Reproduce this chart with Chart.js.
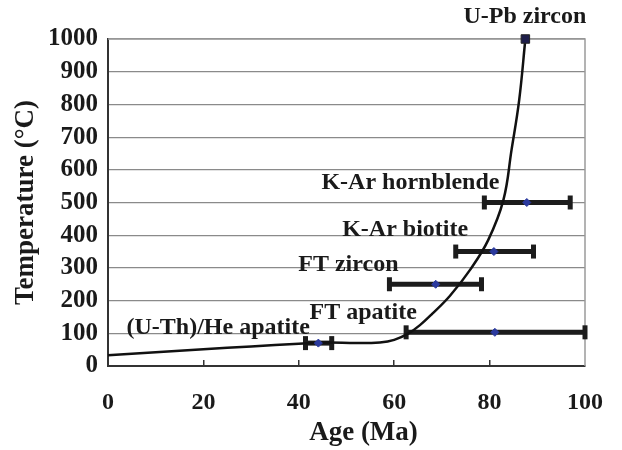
<!DOCTYPE html>
<html>
<head>
<meta charset="utf-8">
<script src="https://cdn.jsdelivr.net/npm/chart.js@4.4.1/dist/chart.umd.min.js"></script>
<style>
  html, body { margin: 0; padding: 0; background: #fff; }
  #wrap { width: 622px; height: 450px; }
</style>
</head>
<body>
<div id="wrap"><canvas id="chart"></canvas></div>
<script>
// cooling curve (age Ma, temperature °C)
const curveAge  = [0, 10, 20, 30, 40, 46, 52, 57, 60, 63, 65.4, 68, 71.7, 75.9, 79.7, 82.9, 84.6, 86.2, 87.5];
const curveTemp = [33, 42, 51, 60, 68, 72, 70, 72, 80, 100, 125, 160, 215, 294, 385, 508, 661, 813, 1000];

// thermochronometers with age ranges
const sampleName = ['K-Ar hornblende', 'K-Ar biotite', 'FT zircon', 'FT apatite', '(U-Th)/He apatite'];
const sampleAge  = [87.8, 80.9, 68.7, 81.1, 44.1];
const sampleTemp = [500, 350, 250, 103, 70];
const ageLow     = [78.9, 72.9, 59.0, 62.5, 41.4];
const ageHigh    = [96.9, 89.2, 78.3, 100, 46.9];

// U-Pb zircon point
const upbAge = 87.5;
const upbTemp = 1000;

// text labels, anchored at the centre of the text (age, temp)
const labelText = ['U-Pb zircon', 'K-Ar hornblende', 'K-Ar biotite', 'FT zircon', 'FT apatite', '(U-Th)/He apatite'];
const labelAge  = [87.4, 63.4, 62.3, 50.4, 53.5, 23.1];
const labelTemp = [1067, 560, 416, 309, 162, 118];

const xTicks = [0, 20, 40, 60, 80, 100];
const yTicks = [0, 100, 200, 300, 400, 500, 600, 700, 800, 900, 1000];
const xTitle = 'Age (Ma)';
const yTitle = 'Temperature (°C)';

const FONT = "'Liberation Serif', 'Times New Roman', serif";
const INK = '#1a1a1a';

const datasets = [];

datasets.push({
    label: 'points',
    type: 'scatter',
    data: sampleAge.map((a, i) => ({ x: a, y: sampleTemp[i] })),
    pointStyle: 'rectRot',
    pointRadius: 4,
    backgroundColor: '#2b3a9e',
    borderColor: '#2b3a9e',
    borderWidth: 1,
    clip: false
});

datasets.push({
    label: 'U-Pb',
    type: 'scatter',
    data: [{ x: upbAge, y: upbTemp }],
    pointStyle: 'rect',
    pointRadius: 6,
    backgroundColor: '#1e1e4a',
    borderColor: '#222',
    borderWidth: 1,
    clip: false
});

datasets.push({
    label: 'curve',
    type: 'line',
    data: curveAge.map((a, i) => ({ x: a, y: curveTemp[i] })),
    borderColor: '#111',
    borderWidth: 2.5,
    pointRadius: 0,
    tension: 0.4,
    fill: false,
    clip: false
});

// horizontal error bars, caps via rotated line points
for (let i = 0; i < sampleName.length; i++) {
    datasets.push({
        label: sampleName[i],
        type: 'line',
        data: [{ x: ageLow[i], y: sampleTemp[i] }, { x: ageHigh[i], y: sampleTemp[i] }],
        borderColor: '#1c1c1c',
        borderWidth: 5,
        pointStyle: 'line',
        pointRotation: 90,
        pointRadius: 7,
        pointBorderWidth: 5,
        pointBorderColor: '#1c1c1c',
        fill: false,
        clip: false
    });
}

const frame = {
    id: 'frame',
    beforeDatasetsDraw(chart) {
        const a = chart.chartArea;
        const ctx = chart.ctx;
        ctx.save();
        ctx.strokeStyle = '#9a9a9a';
        ctx.lineWidth = 1.5;
        ctx.beginPath();
        ctx.moveTo(a.left, a.top);
        ctx.lineTo(a.right, a.top);
        ctx.lineTo(a.right, a.bottom);
        ctx.stroke();
        ctx.restore();
    }
};

const labels = {
    id: 'labels',
    afterDatasetsDraw(chart) {
        const ctx = chart.ctx;
        const xs = chart.scales.x, ys = chart.scales.y;
        const a = chart.chartArea;
        ctx.save();
        ctx.font = 'bold 24px ' + FONT;
        ctx.fillStyle = INK;
        ctx.textAlign = 'center';
        ctx.textBaseline = 'middle';
        labelText.forEach((t, i) => {
            ctx.fillText(t, xs.getPixelForValue(labelAge[i]), ys.getPixelForValue(labelTemp[i]));
        });
        // x axis title sits a bit right of the plot centre in the original
        ctx.font = 'bold 27px ' + FONT;
        ctx.textBaseline = 'alphabetic';
        ctx.fillText(xTitle, (a.left + a.right) / 2 + 17, a.bottom + 74);
        ctx.restore();
    }
};

new Chart(document.getElementById('chart'), {
    type: 'scatter',
    data: { datasets: datasets },
    options: {
        responsive: true,
        maintainAspectRatio: false,
        animation: false,
        layout: { padding: { top: 39, right: 37, left: 0, bottom: 0 } },
        plugins: { legend: { display: false }, tooltip: { enabled: false } },
        scales: {
            x: {
                type: 'linear',
                min: 0,
                max: 100,
                afterBuildTicks: s => { s.ticks = xTicks.map(v => ({ value: v })); },
                afterFit: s => { s.height = 84; s.paddingLeft = 0; s.paddingRight = 0; },
                grid: {
                    display: true,
                    drawOnChartArea: false,
                    drawTicks: true,
                    tickLength: -6,
                    lineWidth: 1.5,
                    color: c => (c.tick && (c.tick.value === 0 || c.tick.value === 100)) ? 'rgba(0,0,0,0)' : '#333'
                },
                border: { color: '#333', width: 2 },
                ticks: {
                    color: INK, padding: 28, autoSkip: false, maxRotation: 0,
                    font: { family: FONT, size: 24, weight: 'bold' },
                    callback: v => String(v)
                },
                title: { display: false }
            },
            y: {
                type: 'linear',
                min: 0,
                max: 1000,
                afterBuildTicks: s => { s.ticks = yTicks.map(v => ({ value: v })); },
                afterFit: s => { s.width = 108; s.paddingTop = 0; s.paddingBottom = 0; },
                grid: { color: '#8a8a8a', lineWidth: 1.2, drawTicks: false },
                border: { color: '#333', width: 2 },
                ticks: {
                    color: INK, padding: 10, autoSkip: false,
                    font: { family: FONT, size: 25, weight: 'bold' },
                    callback: v => String(v)
                },
                title: {
                    display: true,
                    text: yTitle,
                    color: INK,
                    padding: { top: 10, bottom: 0 },
                    font: { family: FONT, size: 27, weight: 'bold' }
                }
            }
        }
    },
    plugins: [frame, labels]
});
</script>
</body>
</html>
